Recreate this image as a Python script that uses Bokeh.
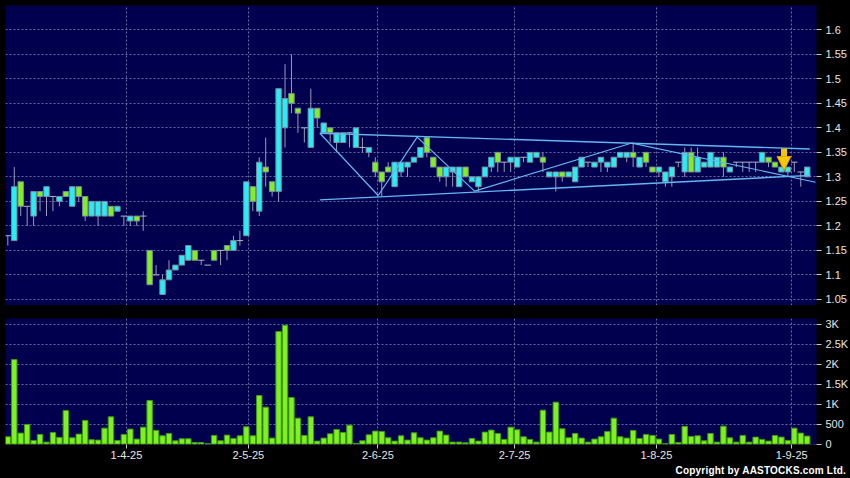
from bokeh.plotting import figure
from bokeh.layouts import column
from bokeh.models import (FixedTicker, Grid, Range1d, Div, Arrow,
                          NormalHead, NumeralTickFormatter, GlobalInlineStyleSheet)
from bokeh.embed import file_html
from bokeh.resources import INLINE

# ---------------- data ----------------
opens = [1.18, 1.17, 1.29, 1.24, 1.22, 1.27, 1.26, 1.26, 1.25, 1.27,
         1.24, 1.28, 1.26, 1.22, 1.22, 1.22, 1.24, 1.23, 1.22, 1.21,
         1.22, 1.22, 1.15, 1.10, 1.06, 1.09, 1.11, 1.12, 1.13, 1.15,
         1.13, 1.12, 1.15, 1.15, 1.16, 1.15, 1.17, 1.18, 1.28, 1.23,
         1.32, 1.29, 1.27, 1.40, 1.47, 1.44, 1.40, 1.36, 1.44, 1.39,
         1.40, 1.37, 1.37, 1.39, 1.36, 1.36, 1.35, 1.33, 1.31, 1.32,
         1.28, 1.31, 1.32, 1.33, 1.34, 1.38, 1.34, 1.32, 1.30, 1.31,
         1.28, 1.32, 1.29, 1.28, 1.30, 1.32, 1.35, 1.33, 1.33, 1.32,
         1.34, 1.33, 1.34, 1.34, 1.30, 1.30, 1.31, 1.30, 1.29, 1.32,
         1.33, 1.32, 1.33, 1.32, 1.32, 1.34, 1.34, 1.35, 1.32, 1.35,
         1.32, 1.31, 1.29, 1.30, 1.33, 1.31, 1.35, 1.31, 1.32, 1.32,
         1.32, 1.34, 1.31, 1.33, 1.33, 1.33, 1.33, 1.33, 1.34, 1.33,
         1.31, 1.31, 1.33, 1.31, 1.30]
highs = [1.18, 1.32, 1.29, 1.24, 1.27, 1.27, 1.28, 1.26, 1.26, 1.27,
         1.28, 1.28, 1.26, 1.25, 1.25, 1.25, 1.24, 1.24, 1.22, 1.22,
         1.22, 1.23, 1.15, 1.12, 1.10, 1.13, 1.12, 1.14, 1.16, 1.15,
         1.13, 1.12, 1.15, 1.15, 1.16, 1.18, 1.19, 1.29, 1.28, 1.34,
         1.38, 1.29, 1.48, 1.53, 1.55, 1.44, 1.40, 1.48, 1.44, 1.41,
         1.40, 1.39, 1.39, 1.39, 1.40, 1.38, 1.36, 1.34, 1.31, 1.33,
         1.33, 1.33, 1.33, 1.34, 1.36, 1.38, 1.34, 1.32, 1.32, 1.32,
         1.32, 1.32, 1.30, 1.30, 1.32, 1.34, 1.35, 1.33, 1.34, 1.34,
         1.34, 1.35, 1.35, 1.35, 1.31, 1.31, 1.31, 1.31, 1.32, 1.34,
         1.33, 1.33, 1.34, 1.33, 1.34, 1.35, 1.35, 1.37, 1.34, 1.35,
         1.32, 1.32, 1.31, 1.32, 1.33, 1.36, 1.36, 1.36, 1.33, 1.35,
         1.34, 1.35, 1.32, 1.33, 1.33, 1.33, 1.33, 1.35, 1.34, 1.33,
         1.32, 1.32, 1.33, 1.31, 1.32]
lows = [1.16, 1.17, 1.22, 1.20, 1.20, 1.23, 1.22, 1.23, 1.24, 1.26,
        1.24, 1.25, 1.21, 1.22, 1.20, 1.22, 1.22, 1.23, 1.20, 1.20,
        1.20, 1.19, 1.08, 1.10, 1.06, 1.09, 1.11, 1.12, 1.13, 1.13,
        1.12, 1.12, 1.13, 1.12, 1.13, 1.15, 1.16, 1.18, 1.23, 1.22,
        1.28, 1.26, 1.25, 1.36, 1.43, 1.39, 1.37, 1.36, 1.40, 1.39,
        1.37, 1.35, 1.37, 1.36, 1.36, 1.35, 1.34, 1.30, 1.26, 1.31,
        1.28, 1.30, 1.30, 1.33, 1.34, 1.34, 1.32, 1.29, 1.28, 1.28,
        1.28, 1.30, 1.29, 1.27, 1.30, 1.31, 1.31, 1.31, 1.31, 1.32,
        1.33, 1.33, 1.34, 1.31, 1.30, 1.27, 1.29, 1.30, 1.29, 1.32,
        1.32, 1.32, 1.31, 1.31, 1.32, 1.34, 1.33, 1.32, 1.32, 1.32,
        1.31, 1.30, 1.28, 1.28, 1.32, 1.30, 1.31, 1.31, 1.32, 1.32,
        1.32, 1.30, 1.31, 1.32, 1.31, 1.31, 1.31, 1.33, 1.32, 1.32,
        1.31, 1.30, 1.31, 1.28, 1.30]
closes = [1.18, 1.28, 1.24, 1.24, 1.27, 1.26, 1.28, 1.26, 1.26, 1.26,
          1.28, 1.26, 1.22, 1.25, 1.25, 1.25, 1.22, 1.24, 1.22, 1.22,
          1.21, 1.22, 1.08, 1.10, 1.09, 1.11, 1.12, 1.14, 1.16, 1.13,
          1.13, 1.12, 1.13, 1.15, 1.15, 1.17, 1.17, 1.29, 1.25, 1.33,
          1.31, 1.27, 1.48, 1.46, 1.45, 1.43, 1.40, 1.44, 1.42, 1.41,
          1.39, 1.39, 1.39, 1.39, 1.40, 1.36, 1.36, 1.31, 1.29, 1.31,
          1.33, 1.33, 1.33, 1.34, 1.36, 1.35, 1.32, 1.30, 1.32, 1.32,
          1.32, 1.30, 1.30, 1.30, 1.32, 1.34, 1.33, 1.33, 1.34, 1.34,
          1.34, 1.35, 1.35, 1.33, 1.31, 1.31, 1.30, 1.31, 1.32, 1.34,
          1.33, 1.33, 1.34, 1.33, 1.34, 1.35, 1.35, 1.34, 1.34, 1.33,
          1.31, 1.32, 1.31, 1.32, 1.33, 1.35, 1.31, 1.34, 1.33, 1.35,
          1.34, 1.32, 1.32, 1.33, 1.33, 1.33, 1.33, 1.35, 1.33, 1.32,
          1.32, 1.32, 1.33, 1.31, 1.32]
volumes = [183, 2117, 275, 492, 92, 242, 50, 292, 167, 842,
           158, 250, 592, 108, 100, 400, 683, 92, 242, 375,
           125, 425, 1092, 342, 208, 267, 83, 133, 133, 42,
           42, 10, 217, 83, 225, 142, 208, 433, 208, 1217,
           925, 150, 2817, 2975, 1167, 650, 217, 683, 75, 150,
           258, 367, 292, 475, 17, 83, 233, 325, 317, 158,
           75, 208, 100, 283, 158, 100, 158, 325, 225, 50,
           50, 33, 142, 75, 300, 350, 267, 117, 425, 358,
           183, 117, 50, 850, 300, 1050, 383, 158, 267, 150,
           50, 125, 183, 317, 650, 183, 150, 342, 142, 242,
           217, 125, 10, 242, 42, 442, 192, 208, 83, 267,
           50, 450, 158, 50, 217, 50, 175, 117, 75, 217,
           175, 92, 400, 275, 200]

tick_pos = [18.4, 37.3, 57.4, 78.6, 100.6, 121.6]
tick_labels = ["1-4-25", "2-5-25", "2-6-25", "2-7-25", "1-8-25", "1-9-25"]
price_ticks = [1.05, 1.1, 1.15, 1.2, 1.25, 1.3, 1.35, 1.4, 1.45, 1.5, 1.55, 1.6]
vol_ticks = [0, 500, 1000, 1500, 2000, 2500, 3000]
vol_labels = ["0", "500", "1K", "1.5K", "2K", "2.5K", "3K"]

# drawn trend lines (bar index, price)
upper_x = [48.4, 124.4]
upper_y = [1.389, 1.357]
lower_x = [48.4, 124.5]
lower_y = [1.253, 1.303]
zigzag_x = [48.4, 57.45, 63.5, 72.4, 96.8, 125.3]
zigzag_y = [1.389, 1.262, 1.381, 1.271, 1.369, 1.289]
signal_x = 120.4
signal_top = 1.358
signal_tip = 1.313

# ---------------- styling ----------------
BG = "#00004f"
GRID = "#6a6a9e"
TXT = "#e6e6e6"
UP = "#26eef4"
DOWN = "#7ef11f"
FONT = "Liberation Sans"

n = len(opens)
idx = list(range(n))
body_top = [max(o, c) for o, c in zip(opens, closes)]
body_bot = [min(o, c) for o, c in zip(opens, closes)]

up_i = [i for i in idx if closes[i] > opens[i]]
dn_i = [i for i in idx if closes[i] < opens[i]]
fl_i = [i for i in idx if closes[i] == opens[i]]

x_range = Range1d(-0.36, 125.44)

p = figure(frame_width=811, frame_height=300, x_range=x_range,
           y_range=Range1d(1.0376, 1.6496), x_axis_type=None,
           y_axis_location="right", output_backend="svg", toolbar_location=None,
           min_border_left=5, min_border_top=5, min_border_bottom=0,
           min_border_right=34)
p.background_fill_color = BG
p.border_fill_color = "black"
p.outline_line_color = None

p.yaxis.ticker = FixedTicker(ticks=price_ticks)
p.yaxis.formatter = NumeralTickFormatter(format="0.0[0]")
p.yaxis.axis_line_color = None
p.yaxis.major_tick_in = 0
p.yaxis.major_tick_out = 5
p.yaxis.minor_tick_line_color = None
p.yaxis.major_tick_line_color = "#c8c8c8"
p.yaxis.major_label_text_color = TXT
p.yaxis.major_label_text_font = FONT
p.yaxis.major_label_text_font_size = "11px"
p.yaxis.major_label_standoff = 4
p.ygrid.grid_line_color = GRID
p.ygrid.grid_line_dash = "2 2"
p.add_layout(Grid(dimension=0, ticker=FixedTicker(ticks=tick_pos),
                  grid_line_color=GRID, grid_line_dash="2 2"))

# wicks
p.segment(x0=idx, y0=lows, x1=idx, y1=highs, line_color="#9a9ab4", line_width=1)
# bodies
p.vbar(x=up_i, top=[body_top[i] for i in up_i],
       bottom=[body_bot[i] for i in up_i], width=0.84,
       fill_color=UP, line_color="#7c8a9a", line_width=1)
p.vbar(x=dn_i, top=[body_top[i] for i in dn_i],
       bottom=[body_bot[i] for i in dn_i], width=0.84,
       fill_color=DOWN, line_color="#7c8a9a", line_width=1)
p.segment(x0=[i - 0.5 for i in fl_i], y0=[closes[i] for i in fl_i],
          x1=[i + 0.5 for i in fl_i], y1=[closes[i] for i in fl_i],
          line_color="#b4b4c4", line_width=1)

# trend lines
TL = "#63b6f2"
p.line(upper_x, upper_y, line_color=TL, line_width=1.4)
p.line(lower_x, lower_y, line_color=TL, line_width=1.4)
p.line(zigzag_x, zigzag_y, line_color=TL, line_width=1.2)

# signal arrow
p.add_layout(Arrow(end=NormalHead(size=14, fill_color="#f8c800", line_color="#d89400"),
                   x_start=signal_x, y_start=signal_top, x_end=signal_x, y_end=signal_tip,
                   line_color="#f5c400", line_width=6))

# ---------------- volume ----------------
v = figure(frame_width=811, frame_height=126, x_range=x_range,
           y_range=Range1d(-10, 3145), y_axis_location="right",
           output_backend="svg", toolbar_location=None,
           min_border_left=5, min_border_top=13, min_border_bottom=20,
           min_border_right=34)
v.background_fill_color = BG
v.border_fill_color = "black"
v.outline_line_color = None

v.vbar(x=idx, top=volumes, bottom=0, width=0.84,
       fill_color=DOWN, line_color="#3f9a12", line_width=1)

v.yaxis.ticker = FixedTicker(ticks=vol_ticks)
v.yaxis.major_label_overrides = dict(zip(vol_ticks, vol_labels))
v.xaxis.ticker = FixedTicker(ticks=tick_pos)
v.xaxis.major_label_overrides = dict(zip(tick_pos, tick_labels))
for ax in (v.xaxis, v.yaxis):
    ax.axis_line_color = None
    ax.major_tick_in = 0
    ax.major_tick_out = 4
    ax.minor_tick_line_color = None
    ax.major_tick_line_color = "#c8c8c8"
    ax.major_label_text_color = TXT
    ax.major_label_text_font = FONT
    ax.major_label_text_font_size = "11px"
v.yaxis.major_tick_out = 5
v.yaxis.major_label_standoff = 4
v.xaxis.major_label_standoff = 2
v.xgrid.grid_line_color = GRID
v.xgrid.grid_line_dash = "2 2"
v.ygrid.grid_line_color = GRID
v.ygrid.grid_line_dash = "2 2"

copyright_div = Div(text="Copyright by AASTOCKS.com Ltd.", width=850, height=14,
                    margin=(0, 0, 0, 0),
                    styles={"text-align": "right", "color": "#ffffff",
                            "font-family": FONT, "font-weight": "bold",
                            "font-size": "10px", "letter-spacing": "0.2px",
                            "line-height": "13px", "padding-right": "4px",
                            "box-sizing": "border-box",
                            "background-color": "black"})

layout = column(p, v, copyright_div, spacing=0,
                styles={"background-color": "black"},
                stylesheets=[GlobalInlineStyleSheet(css="html, body { background-color: #000000; }")])

open("out.html", "w").write(file_html(layout, INLINE))
